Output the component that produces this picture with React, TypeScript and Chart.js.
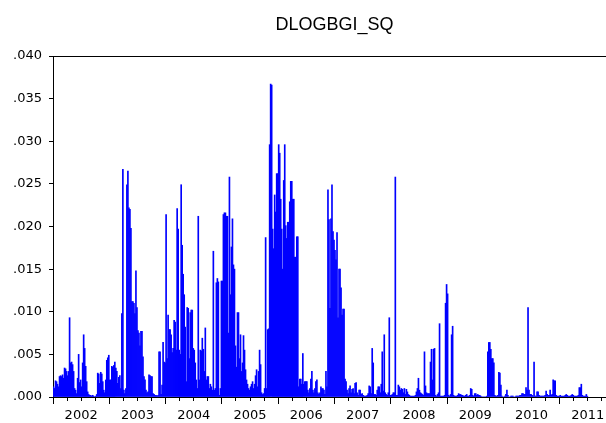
import React, { useEffect, useRef } from 'react';
import { Chart, registerables } from 'chart.js';

Chart.register(...registerables);

const chartTitle = 'DLOGBGI_SQ';
const years = [2002, 2003, 2004, 2005, 2006, 2007, 2008, 2009, 2010, 2011];
const samplesPerYear = 56;

const v2002 = [0.0012,0.0010,0.0019,0.0018,0.0015,0.0012,0.0024,0.0025,0.0024,0.0026,
  0.0022,0.0034,0.0033,0.0030,0.0025,0.0030,0.0093,0.0040,0.0041,0.0038,
  0.0030,0.0010,0.0008,0.0004,0.0022,0.0050,0.0017,0.0020,0.0012,0.0040,
  0.0073,0.0057,0.0036,0.0018,0.0006,0.0003,0.0002,0.0002,0.0001,0.0002,
  0.0001,0.0000,0.0001,0.0003,0.0028,0.0027,0.0016,0.0029,0.0027,0.0018,
  0.0008,0.0005,0.0020,0.0043,0.0046,0.0049];
const v2003 = [0.0020,0.0020,0.0036,0.0035,0.0037,0.0041,0.0034,0.0030,0.0016,0.0023,
  0.0025,0.0010,0.0098,0.0267,0.0008,0.0004,0.0010,0.0249,0.0265,0.0222,
  0.0220,0.0198,0.0112,0.0112,0.0110,0.0098,0.0148,0.0105,0.0078,0.0075,
  0.0060,0.0077,0.0077,0.0047,0.0024,0.0020,0.0008,0.0005,0.0006,0.0026,
  0.0025,0.0024,0.0024,0.0004,0.0003,0.0002,0.0002,0.0001,0.0002,0.0053,
  0.0053,0.0003,0.0014,0.0064,0.0041,0.0040];
const v2004 = [0.0214,0.0045,0.0096,0.0079,0.0079,0.0073,0.0052,0.0057,0.0090,0.0088,
  0.0055,0.0221,0.0197,0.0055,0.0050,0.0249,0.0178,0.0144,0.0120,0.0082,
  0.0018,0.0105,0.0104,0.0045,0.0099,0.0102,0.0102,0.0057,0.0055,0.0040,
  0.0020,0.0010,0.0212,0.0020,0.0055,0.0054,0.0069,0.0056,0.0030,0.0081,
  0.0020,0.0024,0.0024,0.0010,0.0015,0.0012,0.0008,0.0171,0.0008,0.0010,
  0.0134,0.0139,0.0135,0.0002,0.0010,0.0136];
const v2005 = [0.0136,0.0214,0.0216,0.0216,0.0212,0.0212,0.0075,0.0258,0.0120,0.0176,
  0.0209,0.0155,0.0150,0.0060,0.0035,0.0099,0.0099,0.0045,0.0073,0.0030,
  0.0040,0.0072,0.0055,0.0032,0.0020,0.0015,0.0010,0.0008,0.0012,0.0015,
  0.0018,0.0010,0.0015,0.0025,0.0032,0.0012,0.0030,0.0055,0.0038,0.0005,
  0.0003,0.0004,0.0010,0.0187,0.0010,0.0079,0.0080,0.0296,0.0367,0.0366,
  0.0197,0.0174,0.0237,0.0217,0.0262,0.0262];
const v2006 = [0.0296,0.0286,0.0232,0.0197,0.0150,0.0254,0.0296,0.0201,0.0186,0.0205,
  0.0205,0.0229,0.0253,0.0253,0.0232,0.0232,0.0164,0.0164,0.0188,0.0188,
  0.0012,0.0021,0.0021,0.0015,0.0051,0.0015,0.0018,0.0018,0.0018,0.0008,
  0.0005,0.0010,0.0021,0.0030,0.0008,0.0005,0.0010,0.0018,0.0020,0.0005,
  0.0003,0.0005,0.0012,0.0010,0.0010,0.0008,0.0003,0.0030,0.0012,0.0243,
  0.0208,0.0104,0.0209,0.0249,0.0194,0.0184];
const v2007 = [0.0172,0.0161,0.0193,0.0093,0.0150,0.0150,0.0128,0.0096,0.0103,0.0103,
  0.0021,0.0018,0.0008,0.0004,0.0010,0.0013,0.0005,0.0009,0.0010,0.0004,
  0.0016,0.0017,0.0005,0.0002,0.0008,0.0008,0.0003,0.0004,0.0002,0.0001,
  0.0001,0.0001,0.0002,0.0004,0.0013,0.0012,0.0004,0.0057,0.0040,0.0003,
  0.0003,0.0002,0.0008,0.0012,0.0012,0.0005,0.0015,0.0053,0.0007,0.0073,
  0.0005,0.0003,0.0002,0.0005,0.0093,0.0002];
const v2008 = [0.0002,0.0003,0.0005,0.0005,0.0258,0.0002,0.0002,0.0014,0.0012,0.0008,
  0.0010,0.0009,0.0005,0.0010,0.0003,0.0009,0.0006,0.0003,0.0002,0.0001,
  0.0001,0.0001,0.0001,0.0001,0.0002,0.0006,0.0010,0.0022,0.0008,0.0005,
  0.0004,0.0003,0.0002,0.0053,0.0013,0.0005,0.0004,0.0004,0.0004,0.0041,
  0.0056,0.0020,0.0056,0.0057,0.0002,0.0001,0.0003,0.0005,0.0086,0.0001,
  0.0001,0.0001,0.0001,0.0002,0.0110,0.0132];
const v2009 = [0.0121,0.0002,0.0001,0.0003,0.0073,0.0083,0.0002,0.0001,0.0001,0.0001,
  0.0002,0.0004,0.0003,0.0003,0.0002,0.0002,0.0001,0.0001,0.0002,0.0003,
  0.0001,0.0001,0.0002,0.0010,0.0009,0.0002,0.0001,0.0004,0.0004,0.0002,
  0.0003,0.0002,0.0002,0.0001,0.0000,0.0000,0.0000,0.0000,0.0000,0.0001,
  0.0053,0.0064,0.0064,0.0056,0.0045,0.0045,0.0040,0.0002,0.0001,0.0001,
  0.0002,0.0029,0.0028,0.0014,0.0001,0.0000];
const v2010 = [0.0000,0.0001,0.0003,0.0008,0.0002,0.0000,0.0000,0.0001,0.0001,0.0001,
  0.0000,0.0000,0.0001,0.0001,0.0001,0.0001,0.0002,0.0002,0.0004,0.0004,
  0.0003,0.0003,0.0011,0.0008,0.0105,0.0008,0.0003,0.0003,0.0002,0.0001,
  0.0041,0.0001,0.0001,0.0006,0.0006,0.0002,0.0001,0.0001,0.0001,0.0001,
  0.0001,0.0002,0.0007,0.0003,0.0002,0.0002,0.0008,0.0002,0.0003,0.0020,
  0.0019,0.0019,0.0002,0.0001,0.0001,0.0001];
const v2011 = [0.0002,0.0001,0.0001,0.0001,0.0001,0.0002,0.0003,0.0002,0.0001,0.0001,
  0.0001,0.0002,0.0003,0.0002,0.0001,0.0001,0.0001,0.0001,0.0002,0.0011,
  0.0011,0.0015,0.0002,0.0001,0.0001,0.0001,0.0003,0.0001];

const seriesByYear = [v2002, v2003, v2004, v2005, v2006, v2007, v2008, v2009, v2010, v2011];

const yTickValues = [0, 0.005, 0.01, 0.015, 0.02, 0.025, 0.03, 0.035, 0.04];
const yTickLabels = ['.000', '.005', '.010', '.015', '.020', '.025', '.030', '.035', '.040'];
const xMin = 2002;
const xMax = 2012;
const quarterOffsets = [0, 0.25, 0.5, 0.75];

const isWhole = (v: number) => Math.abs(v - Math.round(v)) < 1e-6;
const isMid = (v: number) => Math.abs(v - Math.floor(v) - 0.5) < 1e-6;

export default function App() {
  const ref = useRef<HTMLCanvasElement | null>(null);

  useEffect(() => {
    if (!ref.current) return;
    const points: { x: number; y: number }[] = [];
    seriesByYear.forEach((arr, k) => {
      arr.forEach((v, i) => {
        points.push({ x: years[k] + (i + 0.5) / samplesPerYear, y: v });
      });
    });
    const xTicks: number[] = [];
    years.forEach((yr) => quarterOffsets.forEach((q) => xTicks.push(yr + q)));
    xTicks.push(xMax);

    const tickFont = { family: "'DejaVu Sans', sans-serif", size: 13 };

    const chart = new Chart(ref.current, {
      type: 'bar',
      data: {
        datasets: [
          {
            data: points as any,
            backgroundColor: '#0000ff',
            borderWidth: 0,
            barPercentage: 1,
            categoryPercentage: 1,
            grouped: false,
          } as any,
        ],
      },
      options: {
        animation: false,
        responsive: false,
        devicePixelRatio: 1,
        layout: { padding: { left: 0, right: 14, top: 0, bottom: 0 } },
        plugins: {
          legend: { display: false },
          tooltip: { enabled: false },
          title: {
            display: true,
            text: chartTitle,
            fullSize: false,
            color: '#000',
            font: { family: "'Liberation Sans', Arial, sans-serif", size: 18, weight: 'normal' },
            padding: { top: 14, bottom: 20.4 },
          },
        },
        scales: {
          x: {
            type: 'linear',
            min: xMin,
            max: xMax,
            offset: false,
            afterBuildTicks: (s: any) => {
              s.ticks = xTicks.map((v) => ({ value: v }));
            },
            afterFit: (s: any) => {
              s.height = 26;
            },
            grid: {
              display: true,
              drawOnChartArea: false,
              drawTicks: true,
              offset: false,
              tickLength: 7,
              tickColor: '#000',
              tickWidth: 1,
              tickBorderDash: (ctx: any) => (ctx.tick && isWhole(ctx.tick.value) ? [] : [3, 20]),
            },
            border: { display: true, color: '#000', width: 1 },
            ticks: {
              autoSkip: false,
              maxRotation: 0,
              minRotation: 0,
              padding: 4,
              color: '#000',
              font: tickFont,
              callback: (v: any) => (isMid(Number(v)) ? String(Math.floor(Number(v))) : ''),
            },
          } as any,
          y: {
            min: 0,
            max: 0.04,
            afterBuildTicks: (s: any) => {
              s.ticks = yTickValues.map((v) => ({ value: v }));
            },
            afterFit: (s: any) => {
              s.width = 53;
            },
            grid: {
              drawOnChartArea: true,
              color: (ctx: any) => (ctx.tick && ctx.tick.value >= 0.04 - 1e-9 ? '#000' : 'rgba(0,0,0,0)'),
              tickColor: '#000',
              tickLength: 4,
              tickWidth: 1,
            },
            border: { display: true, color: '#000', width: 1 },
            ticks: {
              padding: 7,
              color: '#000',
              font: tickFont,
              callback: (v: any) => {
                const idx = yTickValues.findIndex((t) => Math.abs(t - Number(v)) < 1e-9);
                return idx >= 0 ? yTickLabels[idx] : '';
              },
            },
          } as any,
        },
      },
    });
    return () => chart.destroy();
  }, []);

  return (
    <div
      style={{
        position: 'fixed',
        left: 0,
        top: 0,
        width: 606,
        height: 423,
        overflow: 'hidden',
        background: '#fff',
      }}
    >
      <canvas ref={ref} width={630} height={423} style={{ display: 'block' }} />
    </div>
  );
}
